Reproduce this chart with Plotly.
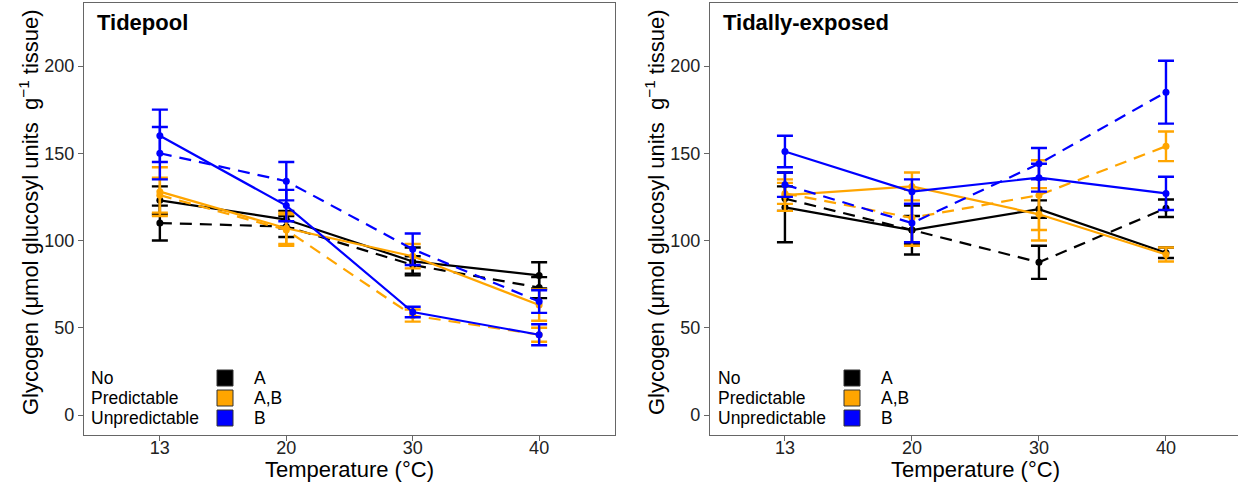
import plotly.graph_objects as go

# ---------------- data ----------------
temps = ["13", "20", "30", "40"]
groups = ["No", "Predictable", "Unpredictable"]
group_letters = ["A", "A,B", "B"]
group_colors = ["#000000", "#FFA500", "#0000FF"]

# Tidepool panel (solid / dashed line types)
tp_no_solid = [123, 112, 88, 80]
tp_no_solid_se = [8, 5, 8, 7.5]
tp_no_dash = [110, 108, 86, 73]
tp_no_dash_se = [10, 6, 5, 6]
tp_pred_solid = [128, 107, 91, 63]
tp_pred_solid_se = [14, 9, 7, 9]
tp_pred_dash = [126, 106, 57, 46]
tp_pred_dash_se = [10, 9, 3.5, 4]
tp_unpred_solid = [160, 120, 59, 46]
tp_unpred_solid_se = [15, 9, 3, 6]
tp_unpred_dash = [150, 134, 95, 65]
tp_unpred_dash_se = [15, 11, 9, 6.5]
tp_letters = ["a", "a", "b", "b"]
tp_letter_y = [194, 164, 132, 112]

# Tidally-exposed panel
te_no_solid = [119, 106, 118, 93]
te_no_solid_se = [20, 8, 5, 3]
te_no_dash = [124, 106, 87.5, 118.5]
te_no_dash_se = [7, 14, 9.5, 5]
te_pred_solid = [126, 131, 115, 92]
te_pred_solid_se = [9, 8, 15, 4]
te_pred_dash = [127, 113, 126, 154]
te_pred_dash_se = [6, 16, 20, 8.5]
te_unpred_solid = [151, 128, 136, 127]
te_unpred_solid_se = [9, 7, 8, 9.5]
te_unpred_dash = [132, 110, 144, 185]
te_unpred_dash_se = [7, 11, 9, 18]
te_letters = ["a", "a", "a", "a"]
te_letter_y = [184.5, 168.5, 179, 221]

yticks = [0, 50, 100, 150, 200]

# ---------------- figure ----------------
W, H = 1238, 490
ML, MR, MT, MB = 0, 0, 3, 55
PH = H - MT - MB
FONT = "Liberation Sans, Arial, sans-serif"


def px(xp):
    return xp / W


def py(yp):
    return (H - MB - yp) / PH


fig = go.Figure()

panels = [
    ("x", "y", [
        (tp_no_solid, tp_no_solid_se, tp_no_dash, tp_no_dash_se),
        (tp_pred_solid, tp_pred_solid_se, tp_pred_dash, tp_pred_dash_se),
        (tp_unpred_solid, tp_unpred_solid_se, tp_unpred_dash, tp_unpred_dash_se),
    ], tp_letters, tp_letter_y),
    ("x2", "y2", [
        (te_no_solid, te_no_solid_se, te_no_dash, te_no_dash_se),
        (te_pred_solid, te_pred_solid_se, te_pred_dash, te_pred_dash_se),
        (te_unpred_solid, te_unpred_solid_se, te_unpred_dash, te_unpred_dash_se),
    ], te_letters, te_letter_y),
]

for xa, ya, data, letters, letter_y in panels:
    for gi, (s, sse, d, dse) in enumerate(data):
        col = group_colors[gi]
        for vals, errs, dash in ((d, dse, "12px,8px"), (s, sse, "solid")):
            fig.add_trace(go.Scatter(
                x=temps, y=vals, xaxis=xa, yaxis=ya,
                mode="lines+markers",
                name=groups[gi],
                showlegend=False,
                line=dict(color=col, width=2.2, dash=dash),
                marker=dict(color=col, size=7),
                error_y=dict(type="data", array=errs, visible=True,
                             color=col, thickness=2.4, width=8),
            ))
    for t, lab, ly in zip(temps, letters, letter_y):
        fig.add_annotation(x=t, y=ly, xref=xa, yref=ya, text=lab,
                           showarrow=False,
                           font=dict(size=19, color="#000000", family=FONT))

axis_common = dict(
    type="category", categoryorder="array", categoryarray=temps,
    showline=True, linecolor="#666666", linewidth=1.2, mirror=True,
    ticks="outside", ticklen=5, tickcolor="#666666", tickwidth=1.2,
    showgrid=False, zeroline=False, ticklabelstandoff=-9,
    tickfont=dict(size=18, color="#222222", family=FONT),
)
yaxis_common = dict(
    range=[-11.46, 236.1], tickvals=yticks,
    showline=True, linecolor="#666666", linewidth=1.2, mirror=True,
    ticks="outside", ticklen=5, tickcolor="#666666", tickwidth=1.2,
    showgrid=False, zeroline=False,
    tickfont=dict(size=18, color="#222222", family=FONT),
)

fig.update_layout(
    width=W, height=H,
    margin=dict(l=ML, r=MR, t=MT, b=MB),
    paper_bgcolor="white", plot_bgcolor="white",
    font=dict(family=FONT, color="#000000"),
    xaxis=dict(domain=[px(84), px(615)], range=[-0.6, 3.6], anchor="y", **axis_common),
    yaxis=dict(domain=[0, 1], anchor="x", **yaxis_common),
    xaxis2=dict(domain=[px(710), 1.0], range=[-0.59, 3.567], anchor="y2", **axis_common),
    yaxis2=dict(domain=[0, 1], anchor="x2", **yaxis_common),
)

# Panel titles
for xp, title in ((95, "Tidepool"), (721, "Tidally-exposed")):
    fig.add_annotation(x=px(xp), y=py(22), xref="paper", yref="paper",
                       text="<b>%s</b>" % title, showarrow=False,
                       xanchor="left", yanchor="middle",
                       font=dict(size=22, color="#000000", family=FONT))

# Axis titles
ytitle = "Glycogen (\u03bcmol glucosyl units  g<sup>\u22121</sup> tissue)"
for xp in (29, 655):
    fig.add_annotation(x=px(xp), y=py(212), xref="paper", yref="paper",
                       text=ytitle, showarrow=False, textangle=-90,
                       xanchor="center", yanchor="middle",
                       font=dict(size=22, color="#000000", family=FONT))
for xp in (349, 975):
    fig.add_annotation(x=px(xp), y=py(469), xref="paper", yref="paper",
                       text="Temperature (\u00b0C)", showarrow=False,
                       xanchor="center", yanchor="middle",
                       font=dict(size=22, color="#000000", family=FONT))

# In-panel legends
row_y = [378, 398, 418]
for x_text, x_key, x_let in ((89, 225, 252), (716, 852, 879)):
    for i in range(3):
        yc = row_y[i]
        fig.add_annotation(x=px(x_text), y=py(yc), xref="paper", yref="paper",
                           text=groups[i], showarrow=False,
                           xanchor="left", yanchor="middle",
                           font=dict(size=17.5, color="#000000", family=FONT))
        fig.add_shape(type="rect", xref="paper", yref="paper",
                      x0=px(x_key - 8), x1=px(x_key + 8),
                      y0=py(yc + 8), y1=py(yc - 8),
                      fillcolor=group_colors[i],
                      line=dict(color="#333333", width=1))
        fig.add_annotation(x=px(x_let), y=py(yc), xref="paper", yref="paper",
                           text=group_letters[i], showarrow=False,
                           xanchor="left", yanchor="middle",
                           font=dict(size=17.5, color="#000000", family=FONT))

fig.write_html("out.html")
